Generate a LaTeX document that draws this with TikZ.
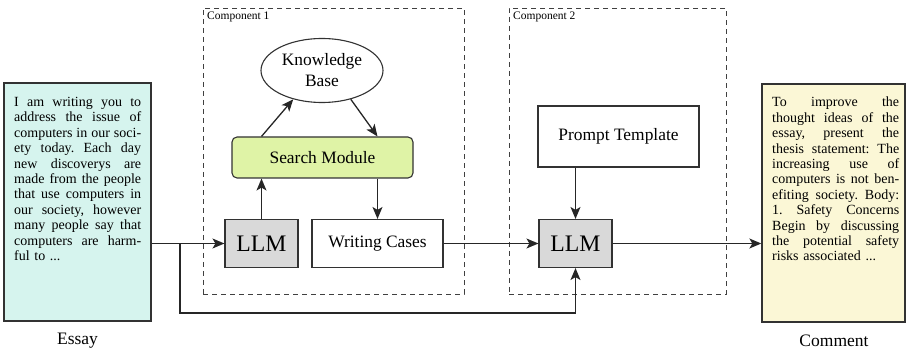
\documentclass[tikz,border=0pt]{standalone}
\usepackage{fontspec}
\setmainfont{Liberation Serif}
\usetikzlibrary{arrows.meta,shapes.geometric,calc}
\definecolor{essayfill}{RGB}{214,244,238}
\definecolor{commentfill}{RGB}{251,247,214}
\definecolor{searchfill}{RGB}{223,243,166}
\definecolor{llmfill}{RGB}{217,217,217}
\definecolor{edge}{RGB}{50,50,50}
\newcommand{\jl}[1]{{\frenchspacing\spaceskip=0.25em plus 1fil\relax\xspaceskip=0.25em plus 1fil\relax\makebox[\linewidth][s]{#1}}\\}
\tikzset{
  docbox/.style={draw=edge, line width=1.3pt, minimum width=147pt, minimum height=238pt, inner sep=0pt},
  doctxt/.style={text width=127pt, inner sep=0pt, align=left, font=\fontsize{14}{15.4}\selectfont, anchor=north west},
  comp/.style={draw=black!75, line width=0.9pt, dash pattern=on 5pt off 4pt},
  complabel/.style={font=\fontsize{11.5}{13}\selectfont, anchor=north west, inner sep=0pt},
  plain/.style={draw=edge, line width=1.1pt, font=\fontsize{17.4}{21}\selectfont, inner sep=0pt, align=center},
  llmbox/.style={plain, fill=llmfill, minimum width=73pt, minimum height=48pt, font=\fontsize{23.7}{26}\selectfont},
  arr/.style={draw=black!85, line width=1.3pt, -{Stealth[length=12pt,width=10pt,inset=3pt]}},
  lbl/.style={font=\fontsize{17.5}{20}\selectfont, inner sep=0pt}
}
\begin{document}
\begin{tikzpicture}[x=1pt,y=-1pt]
\useasboundingbox (0,0) rectangle (906,350);
% components
\node[comp, minimum width=261pt, minimum height=286pt, inner sep=0pt] (c1) at (333.5,151) {};
\node[comp, minimum width=217pt, minimum height=286pt, inner sep=0pt] (c2) at (617.5,151) {};
\node[complabel] (c1l) at (207,12) {Component 1};
\node[complabel] (c2l) at (513,12) {Component 2};
% documents
\node[docbox, fill=essayfill] (essay) at (77.5,202) {};
\node[doctxt] (essaytxt) at (14,97) {%
\jl{I am writing you to}
\jl{address the issue of}
\jl{computers in our soci-}
\jl{ety today. Each day}
\jl{new discoverys are}
\jl{made from the people}
\jl{that use computers in}
\jl{our society, however}
\jl{many people say that}
\jl{computers are harm-}
ful to ...};
\node[docbox, fill=commentfill, minimum width=143pt] (comment) at (833.5,203) {};
\node[doctxt] (commenttxt) at (772,97) {%
\jl{To improve the}
\jl{thought ideas of the}
\jl{essay, present the}
\jl{thesis statement: The}
\jl{increasing use of}
\jl{computers is not ben-}
\jl{efiting society. Body:}
\jl{1. Safety Concerns}
\jl{Begin by discussing}
\jl{the potential safety}
risks associated ...};
\node[lbl] (essayl) at (77.5,341) {Essay};
\node[lbl] (commentl) at (834,341) {Comment};
% component 1
\node[plain, ellipse, fill=white, minimum width=122pt, minimum height=64pt] (kb) at (322,70.5) {Knowledge\\Base};
\node[plain, fill=searchfill, rounded corners=5pt, minimum width=181pt, minimum height=41pt] (search) at (322.5,157.5) {Search Module};
\node[llmbox] (llm1) at (261.5,243.5) {LLM};
\node[plain, fill=white, minimum width=131pt, minimum height=48pt] (wc) at (377.5,243.5) {Writing Cases};
% component 2
\node[plain, fill=white, minimum width=161pt, minimum height=61pt] (pt) at (618.5,136.5) {Prompt Template};
\node[llmbox] (llm2) at (575.5,243.5) {LLM};
% connectors
\coordinate (br) at (180,243.5);
\coordinate (bot) at (180,313);
\draw[arr] (llm1.west -| essay.east) -- (llm1.west);
\draw[arr] (br) -- (bot) -| (llm2.south);
\draw[arr] (llm1.north) -- (llm1.north |- search.south);
\draw[arr] (search.north -| llm1.north) -- (kb.225);
\draw[arr] (kb.-45) -- (search.north -| wc.north);
\draw[arr] (search.south -| wc.north) -- (wc.north);
\draw[arr] (wc.east) -- (llm2.west);
\draw[arr] (pt.south -| llm2.north) -- (llm2.north);
\draw[arr] (llm2.east) -- (llm2.east -| comment.west);
\end{tikzpicture}
\end{document}
